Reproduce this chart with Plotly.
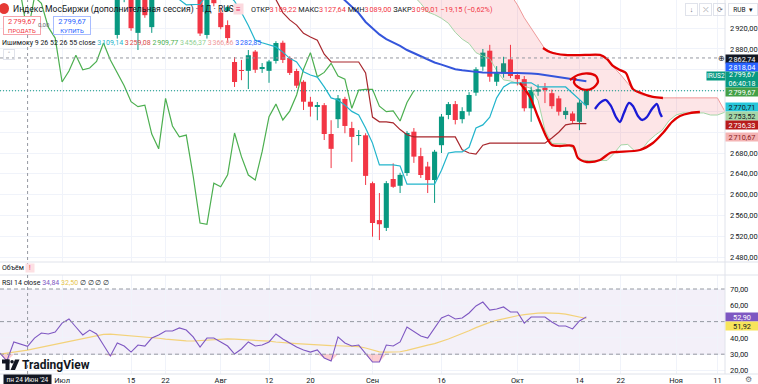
import plotly.graph_objects as go
import pandas as pd

# ---------------- DATA ----------------
FIRST_DAY = "2024-06-18"          # first visible daily bar
N_TOTAL = 111                     # bars incl. future (cloud projection)
FIRST_POS = -9                    # position index of first bar (Jul 1 = 0)

OPEN = [3160, 3135, 3095, 3120, 3109.22, 3090, 3100, 3120, 3130, 3120,
        3150, 3125, 3085, 3050, 3060, 3040, 3000, 2907, 2985, 2995,
        2911, 2985, 2922, 2980, 2990, 2995, 2985, 2990, 2980, 2985,
        2907, 2990, 2950, 2926, 2855, 2838, 2838, 2875, 2842, 2838,
        2857, 2892, 2862.7, 2837.7, 2817, 2778.6, 2770, 2772, 2716.5, 2745,
        2784, 2728, 2713, 2714, 2622, 2551, 2536, 2630, 2617, 2641.5,
        2721, 2674, 2654, 2628, 2695, 2753, 2774, 2745, 2759.4, 2796,
        2846, 2876.7, 2817, 2833, 2860, 2830, 2822, 2766, 2798, 2805.6,
        2795, 2785, 2753, 2756, 2740, 2772]
HIGH = [3180, 3150, 3130, 3135, 3127.64, 3110, 3130, 3140, 3145, 3160,
        3165, 3135, 3100, 3070, 3080, 3050, 3010, 2995, 3010, 3005,
        2995, 2990, 2992, 3000, 3010, 3005, 3000, 3000, 2995, 2990,
        2990, 2995, 2960, 2935, 2864.6, 2859, 2878, 2878, 2853, 2859,
        2895, 2896, 2866, 2842, 2820, 2788, 2778, 2776, 2743, 2791.5,
        2788, 2740, 2724, 2718, 2625, 2603, 2626, 2660, 2642, 2722,
        2728, 2690, 2663, 2686, 2755, 2778, 2780, 2768, 2797, 2845,
        2880, 2888, 2847, 2865, 2888, 2836, 2828, 2807.5, 2812, 2814.6,
        2802, 2790, 2768, 2760, 2782, 2803]
LOW = [3120, 3080, 3085, 3100, 3089.00, 3060, 3095, 3105, 3110, 3115,
       3120, 3080, 3040, 3020, 3030, 2990, 2980, 2900, 2970, 2915,
       2878, 2940, 2911, 2975, 2978, 2978, 2977, 2976, 2976, 2905,
       2900, 2962, 2918, 2892, 2807, 2820, 2803, 2834, 2834, 2815,
       2852, 2853, 2830, 2805, 2762.7, 2750, 2743, 2705, 2651, 2728,
       2718, 2663, 2695, 2618.5, 2519, 2512.6, 2530, 2613, 2603, 2636,
       2661, 2632, 2603, 2584, 2680, 2745, 2735, 2737, 2752, 2790,
       2838, 2817, 2809, 2825, 2824, 2810, 2760, 2740, 2790, 2776,
       2765, 2752, 2745, 2738, 2724, 2765]
CLOSE = [3135, 3095, 3120, 3110, 3090.01, 3100, 3120, 3130, 3120, 3150,
         3125, 3085, 3050, 3060, 3040, 3000, 2990, 2985, 3000, 2920,
         2985, 2945, 2980, 2990, 2995, 2985, 2990, 2980, 2985, 2909.77,
         2980, 2968, 2922, 2901, 2816.5, 2837.7, 2868, 2840, 2843.5, 2856,
         2891.5, 2859, 2834, 2809.4, 2778.6, 2769, 2772, 2716.5, 2688, 2785,
         2732, 2711, 2714.5, 2636, 2545.4, 2543, 2622, 2615, 2638, 2718.5,
         2673, 2637.7, 2628, 2682.5, 2750, 2774, 2743.5, 2760.6, 2791.5, 2841,
         2873, 2826.7, 2835, 2852.5, 2828, 2822, 2766, 2801, 2802.5, 2802.5,
         2770, 2759.4, 2761, 2741.5, 2777, 2799.67]

TENKAN = [3140, 3130, 3120, 3115, 3109.14, 3105, 3100, 3100, 3095, 3100,
          3105, 3100, 3090, 3080, 3070, 3060, 3050, 3040, 3030, 3020,
          3010, 3000, 2995, 2990, 2985, 2982, 2975, 2965, 2965, 2966,
          2985, 2990, 2990, 2985, 2972, 2950, 2925, 2897, 2892, 2888,
          2884, 2874, 2862, 2855, 2836, 2830, 2826, 2807, 2786, 2782,
          2772, 2760, 2753, 2728, 2699, 2657, 2657, 2657, 2655, 2620,
          2620, 2620, 2620, 2620, 2647, 2680, 2682, 2682, 2691, 2728,
          2734, 2749, 2786, 2807, 2815, 2815, 2815, 2815, 2807, 2807,
          2807, 2807, 2807, 2795, 2782, 2770.71]
KIJUN = [3262, 3260, 3259.08, 3259.08, 3259.08, 3255, 3250, 3245, 3240, 3235,
         3230, 3225, 3220, 3210, 3200, 3190, 3180, 3170, 3160, 3150,
         3140, 3130, 3120, 3110, 3100, 3090, 3080, 3070, 3060, 3050,
         3040, 3035, 3030, 3025, 3020, 3015, 3010, 3005, 3000, 2990,
         2975, 2950, 2936, 2926, 2910, 2903, 2897, 2870, 2855, 2855,
         2855, 2855, 2855, 2834, 2749, 2740, 2740, 2738, 2725, 2715,
         2711, 2711, 2711, 2711, 2711, 2711, 2711, 2686, 2680, 2678,
         2695, 2699, 2699, 2699, 2699, 2699, 2699, 2699, 2699, 2699,
         2709, 2720, 2734, 2736.33, 2736.33, 2736.33]
MA55 = [3300, 3296, 3292, 3288, 3282.85, 3279, 3275, 3271, 3266, 3261,
        3256, 3251, 3245, 3239, 3233, 3227, 3221, 3215, 3209, 3203,
        3197, 3190, 3183, 3176, 3169, 3162, 3155, 3148, 3141, 3134,
        3127, 3120, 3113, 3106, 3099, 3092, 3085, 3078, 3071, 3064,
        3057, 3050, 3043, 3036, 3029, 3022, 3015, 3007, 2998, 2986,
        2974, 2962, 2949, 2932, 2920, 2908, 2899, 2893, 2886, 2878,
        2872, 2866, 2860, 2854, 2850, 2845, 2841, 2839, 2837, 2836,
        2835, 2834.5, 2834, 2834, 2834, 2834, 2834, 2833, 2832, 2830,
        2828, 2826, 2824, 2822, 2820, 2818.04]

# Leading span B (52-period midpoint), as read, from its first plotted bar
SPAN_FIRST_DAY = "2024-08-20"
SPAN_B = [3100, 3100, 3100, 3100, 3100, 3100, 3100, 3100, 3100, 3100,
          3100, 3100, 3100, 3100, 3080, 3080, 3080, 3080, 3080, 3080,
          3080, 3080, 3080, 3080, 3080, 3060, 3040, 3020, 3000, 2985,
          2965, 2940, 2920, 2902, 2880, 2874, 2870, 2868, 2868, 2868,
          2868, 2868, 2868, 2859, 2845, 2830, 2814, 2800, 2792, 2789,
          2787, 2786, 2786, 2786, 2786, 2786, 2786, 2786, 2786, 2786,
          2762, 2740, 2730, 2720, 2715, 2710.67]
DISPLACEMENT = 25          # Ichimoku 26 (plotted 25 bars ahead / behind)

RSI = [30.7, 25.8, 37.5, 36.3, 34.84, 39.9, 43.0, 42.4, 43.6, 49.1,
       51.6, 46.7, 41.8, 44.8, 42.4, 35.6, 28.9, 36.9, 35.0, 31.3,
       35.6, 35.0, 39.9, 41.8, 44.2, 44.2, 46.1, 44.8, 40.6, 34.4,
       39.9, 39.9, 37.5, 35.0, 30.1, 33.2, 37.5, 35.0, 35.6, 37.5,
       42.4, 39.3, 36.9, 34.4, 32.6, 31.3, 32.6, 27.7, 25.8, 40.6,
       36.9, 35.0, 35.6, 30.7, 25.2, 25.2, 35.6, 35.0, 37.5, 46.7,
       44.2, 41.2, 39.9, 46.1, 52.2, 54.0, 51.6, 52.2, 55.3, 59.6,
       62.0, 57.1, 57.7, 59.0, 55.9, 55.9, 49.1, 52.8, 52.8, 52.8,
       49.8, 47.3, 47.3, 45.5, 50.4, 52.90]
RSI_MA = [30.1, 30.6, 31.2, 31.8, 32.50, 33.4, 34.3, 35.2, 36.1, 37.0,
          37.6, 38.4, 39.5, 40.6, 41.5, 42.2, 42.3, 42.0, 41.4, 41.0,
          40.8, 40.6, 40.3, 39.8, 39.2, 38.8, 38.5, 38.2, 38.1, 38.3,
          38.6, 39.0, 39.3, 39.4, 39.2, 39.0, 38.8, 38.7, 38.4, 38.0,
          37.5, 37.0, 36.8, 36.5, 36.2, 35.9, 35.7, 35.5, 35.3, 35.2,
          35.1, 35.0, 34.6, 33.8, 32.6, 31.4, 31.3, 31.3, 31.5, 32.3,
          33.5, 34.6, 35.6, 36.5, 37.8, 39.3, 41.0, 42.6, 44.4, 46.3,
          48.0, 49.5, 50.8, 51.8, 52.7, 53.6, 54.3, 54.9, 55.2, 55.3,
          55.3, 55.0, 54.6, 53.8, 52.8, 51.92]

TICK_DATES = ["2024-07-01", "2024-07-15", "2024-07-22", "2024-08-01", "2024-08-12",
              "2024-08-20", "2024-09-02", "2024-09-16", "2024-10-01", "2024-10-14",
              "2024-10-22", "2024-11-01", "2024-11-11"]
TICK_LABELS = ["Июл", "15", "22", "Авг", "12", "20", "Сен", "16", "Окт", "14",
               "22", "Ноя", "11"]
CROSS_DAY = "2024-06-24"
CROSS_PRICE = 2862.74
LEGEND_SPAN_A, LEGEND_SPAN_B = 3456.37, 3366.66

# user drawings (bar position, price)
DRAW_RED_TOP_X = [69.71, 70.72, 72.90, 75.80, 77.97, 78.99, 79.86, 80.87, 81.74, 82.17, 82.75, 83.91, 85.65, 87.10]
DRAW_RED_TOP_Y = [2881.9, 2874.2, 2868.5, 2868.5, 2868.5, 2860.8, 2847.3, 2839.6, 2833.8, 2820.4, 2803.1, 2795.4, 2787.7, 2785.8]
DRAW_RED_BOT_X = [66.38, 67.83, 68.99, 70.29, 71.01, 72.17, 74.06, 74.78, 76.09, 77.97, 79.42, 80.43, 83.77, 85.65, 87.10, 88.41, 89.57, 91.01, 92.46]
DRAW_RED_BOT_Y = [2814.6, 2787.7, 2749.2, 2708.8, 2695.4, 2693.5, 2693.5, 2670.4, 2662.7, 2666.5, 2680.0, 2681.9, 2685.8, 2699.2, 2718.5, 2739.6, 2751.2, 2756.9, 2758.8]
DRAW_LOOP_X = [73.62, 74.78, 76.23, 77.39, 77.68, 76.96, 75.80, 74.78, 74.20, 74.49]
DRAW_LOOP_Y = [2820.4, 2830.0, 2832.9, 2828.1, 2816.5, 2805.0, 2801.2, 2806.9, 2816.5, 2824.2]
DRAW_WAVE_X = [77.25, 77.97, 78.84, 79.57, 80.29, 80.87, 81.45, 82.17, 82.75, 83.48, 84.06, 84.78, 85.51, 86.23, 86.67, 86.96]
DRAW_WAVE_Y = [2764.6, 2776.2, 2781.9, 2770.4, 2749.2, 2739.6, 2756.9, 2776.2, 2770.4, 2751.2, 2743.5, 2749.2, 2764.6, 2774.2, 2756.9, 2749.2]

# ---------------- STYLE ----------------
W, H = 758, 384
FONT = "Roboto, 'Noto Sans', sans-serif"
TXT = "#131722"
GRAYT = "#6a6d78"
GRID = "#f0f3fa"
UP, DN = "#089981", "#F23645"
C_TENKAN, C_KIJUN, C_LAG = "#22b5cc", "#a8272d", "#4caf50"
C_SPANA, C_SPANB, C_MA = "#a5d6a7", "#ef9a9a", "#3455db"
C_RSI, C_RSIMA = "#7e57c2", "#f3d27a"
PLOT_R = 725 / W


def px(x):
    return x / W


def py(y):
    return 1 - y / H


def fmt(v):
    s = f"{v:,.2f}"
    return s.replace(",", "\u202f").replace(".", ",")


dates = pd.bdate_range(FIRST_DAY, periods=N_TOTAL)
pos_of = {d: FIRST_POS + k for k, d in enumerate(dates)}
pos_all = [FIRST_POS + k for k in range(N_TOTAL)]
bar_x = pos_all[:len(CLOSE)]
span_start = pos_of[pd.Timestamp(SPAN_FIRST_DAY)]
span_x = [span_start + k for k in range(len(SPAN_B))]
# Leading span A = (Tenkan + Kijun) / 2, shifted forward
span_a = [(TENKAN[p - DISPLACEMENT - FIRST_POS] + KIJUN[p - DISPLACEMENT - FIRST_POS]) / 2 for p in span_x]
lag_x = [p - DISPLACEMENT for p in bar_x]
tick_pos = [pos_of[pd.Timestamp(d)] for d in TICK_DATES]
cross_x = pos_of[pd.Timestamp(CROSS_DAY)]

fig = go.Figure()

# Cloud
fig.add_trace(go.Scatter(x=span_x, y=SPAN_B, mode="lines", line=dict(color=C_SPANB, width=1),
                         hoverinfo="skip", showlegend=False))
fig.add_trace(go.Scatter(x=span_x, y=span_a, mode="lines", line=dict(color=C_SPANA, width=1),
                         fill="tonexty", fillcolor="rgba(242,54,69,0.13)",
                         hoverinfo="skip", showlegend=False))

# Candles: wicks + bodies
for col, is_up in ((UP, True), (DN, False)):
    wx, wy = [], []
    for p, o, h, l, c in zip(bar_x, OPEN, HIGH, LOW, CLOSE):
        if (c >= o) == is_up:
            wx += [p, p, None]
            wy += [l, h, None]
    fig.add_trace(go.Scatter(x=wx, y=wy, mode="lines", line=dict(color=col, width=1),
                             hoverinfo="skip", showlegend=False))
body_base = [min(o, c) for o, c in zip(OPEN, CLOSE)]
body_h = [max(abs(c - o), 1.3) for o, c in zip(OPEN, CLOSE)]
body_col = [UP if c >= o else DN for o, c in zip(OPEN, CLOSE)]
fig.add_trace(go.Bar(x=bar_x, y=body_h, base=body_base, width=0.74,
                     marker=dict(color=body_col, line=dict(width=0)),
                     hoverinfo="skip", showlegend=False))

# Ichimoku lines
fig.add_trace(go.Scatter(x=lag_x, y=CLOSE, mode="lines", line=dict(color=C_LAG, width=1.2),
                         hoverinfo="skip", showlegend=False))
fig.add_trace(go.Scatter(x=bar_x, y=KIJUN, mode="lines", line=dict(color=C_KIJUN, width=1.2),
                         hoverinfo="skip", showlegend=False))
fig.add_trace(go.Scatter(x=bar_x, y=TENKAN, mode="lines", line=dict(color=C_TENKAN, width=1.2),
                         hoverinfo="skip", showlegend=False))
fig.add_trace(go.Scatter(x=bar_x, y=MA55, mode="lines", line=dict(color=C_MA, width=2),
                         hoverinfo="skip", showlegend=False))

# Drawings
for xs, ys, col in [(DRAW_RED_TOP_X, DRAW_RED_TOP_Y, "#e00000"),
                    (DRAW_RED_BOT_X, DRAW_RED_BOT_Y, "#e00000"),
                    (DRAW_LOOP_X, DRAW_LOOP_Y, "#e00000"),
                    (DRAW_WAVE_X, DRAW_WAVE_Y, "#1a1ad6")]:
    fig.add_trace(go.Scatter(x=xs, y=ys, mode="lines",
                             line=dict(color=col, width=2.3, shape="spline", smoothing=0.8),
                             hoverinfo="skip", showlegend=False))

# RSI
below = [min(v, 30) for v in RSI]
fig.add_trace(go.Scatter(x=bar_x, y=[30] * len(RSI), mode="lines", line=dict(width=0),
                         xaxis="x2", yaxis="y2", hoverinfo="skip", showlegend=False))
fig.add_trace(go.Scatter(x=bar_x, y=below, mode="lines", line=dict(width=0),
                         fill="tonexty", fillcolor="rgba(242,54,69,0.25)",
                         xaxis="x2", yaxis="y2", hoverinfo="skip", showlegend=False))
fig.add_trace(go.Scatter(x=bar_x, y=RSI_MA, mode="lines", line=dict(color=C_RSIMA, width=1.2),
                         xaxis="x2", yaxis="y2", hoverinfo="skip", showlegend=False))
fig.add_trace(go.Scatter(x=bar_x, y=RSI, mode="lines", line=dict(color=C_RSI, width=1.1),
                         xaxis="x2", yaxis="y2", hoverinfo="skip", showlegend=False))

price_ticks = list(range(2480, 2921, 40))
hidden = {2840, 2800, 2760, 2720}
rsi_ticks = [20, 30, 40, 50, 60, 70]

xr = [FIRST_POS, FIRST_POS + 105.1]
fig.update_layout(
    width=W, height=H, margin=dict(l=0, r=0, t=0, b=0),
    paper_bgcolor="white", plot_bgcolor="white",
    font=dict(family=FONT, color=TXT, size=8),
    xaxis=dict(domain=[0, PLOT_R], range=xr, tickvals=tick_pos, showticklabels=False,
               showgrid=True, gridcolor=GRID, zeroline=False, showline=False, fixedrange=True),
    yaxis=dict(domain=[py(262), 1], range=[2470.4, 2974.2], side="right",
               tickvals=price_ticks,
               ticktext=["" if v in hidden else fmt(v) for v in price_ticks],
               tickfont=dict(size=7.5, color=TXT), showgrid=True, gridcolor=GRID,
               zeroline=False, ticks="", ticklabelstandoff=4),
    xaxis2=dict(domain=[0, PLOT_R], range=xr, anchor="y2", tickvals=tick_pos,
                ticktext=TICK_LABELS, tickfont=dict(size=7.5, color=TXT),
                showgrid=True, gridcolor=GRID, zeroline=False, showline=False, ticks=""),
    yaxis2=dict(domain=[py(374), py(275)], range=[17.85, 78.6], anchor="x2", side="right",
                tickvals=rsi_ticks,
                ticktext=["" if v == 50 else fmt(v) for v in rsi_ticks],
                tickfont=dict(size=7.5, color=TXT), showgrid=True, gridcolor=GRID,
                zeroline=False, ticks="", ticklabelstandoff=4),
)

shapes = []
# RSI band
shapes.append(dict(type="rect", xref="paper", yref="y2", x0=0, x1=PLOT_R, y0=30, y1=70,
                   fillcolor="rgba(126,87,194,0.09)", line=dict(width=0), layer="below"))
for lv in (70, 50, 30):
    shapes.append(dict(type="line", xref="paper", yref="y2", x0=0, x1=PLOT_R, y0=lv, y1=lv,
                       line=dict(color="#9598a1", width=1, dash="4px,3px")))
# separators
for yy in (262, 275, 374):
    shapes.append(dict(type="line", xref="paper", yref="paper", x0=0, x1=1, y0=py(yy), y1=py(yy),
                       line=dict(color="#e0e3eb", width=1)))
shapes.append(dict(type="line", xref="paper", yref="paper", x0=PLOT_R, x1=PLOT_R, y0=py(374), y1=1,
                   line=dict(color="#e0e3eb", width=1)))
# last price line & crosshair
shapes.append(dict(type="line", xref="paper", yref="y", x0=0, x1=PLOT_R, y0=CLOSE[-1], y1=CLOSE[-1],
                   line=dict(color=UP, width=1, dash="1px,2px")))
shapes.append(dict(type="line", xref="paper", yref="y", x0=0, x1=PLOT_R, y0=CROSS_PRICE, y1=CROSS_PRICE,
                   line=dict(color="#9598a1", width=1, dash="3px,3px")))
shapes.append(dict(type="line", xref="x", yref="paper", x0=cross_x, x1=cross_x, y0=py(374), y1=1,
                   line=dict(color="#9598a1", width=1, dash="3px,3px")))
# MOEX logo + status dot
shapes.append(dict(type="circle", xref="paper", yref="paper", x0=px(-1), x1=px(9), y0=py(14), y1=py(3),
                   fillcolor="#e53935", line=dict(width=0)))
shapes.append(dict(type="circle", xref="paper", yref="paper", x0=px(225), x1=px(230), y0=py(11.5), y1=py(6.5),
                   fillcolor=UP, line=dict(width=0)))
# TradingView logo glyph
shapes.append(dict(type="rect", xref="paper", yref="paper", x0=px(2), x1=px(9.5), y0=py(363.5), y1=py(359.5),
                   fillcolor=TXT, line=dict(width=0)))
shapes.append(dict(type="rect", xref="paper", yref="paper", x0=px(5.5), x1=px(9.5), y0=py(370), y1=py(359.5),
                   fillcolor=TXT, line=dict(width=0)))
shapes.append(dict(type="circle", xref="paper", yref="paper", x0=px(10.3), x1=px(13.8), y0=py(363.5), y1=py(360),
                   fillcolor=TXT, line=dict(width=0)))
shapes.append(dict(type="path", xref="paper", yref="paper",
                   path=f"M {px(15)} {py(359.5)} L {px(19.5)} {py(359.5)} L {px(15)} {py(370)} L {px(10.5)} {py(370)} Z",
                   fillcolor=TXT, line=dict(width=0)))
fig.update_layout(shapes=shapes)


def ann(x, y, text, size=7.5, color=TXT, xanchor="left", **kw):
    fig.add_annotation(xref="paper", yref="paper", x=px(x), y=py(y), text=text, showarrow=False,
                       font=dict(family=FONT, size=size, color=color), xanchor=xanchor,
                       yanchor="middle", **kw)


def plabel(yc, text, bg, fg="white", x=725, w=32, h=8, size=7.3):
    ann(x, yc, text, size=size, color=fg, bgcolor=bg, width=w, height=h, borderpad=0, align="center")


def sp(t, c):
    return f"<span style='color:{c}'>{t}</span>"


# header
ann(11, 9, "Индекс МосБиржи (дополнительная сессия) · 1Д · RUS", size=8.6)
ann(233, 9, "≡", size=8, color="#e91e63", bgcolor="#fcd9de", width=9, height=10, borderpad=0)
ann(249, 9, sp("ОТКР", TXT) + sp(fmt(OPEN[4]), DN) + " " + sp("МАКС", TXT) + sp(fmt(HIGH[4]), DN) + " "
    + sp("МИН", TXT) + sp(fmt(LOW[4]), DN) + " " + sp("ЗАКР", TXT) + sp(fmt(CLOSE[4]), DN) + " "
    + sp("−19,15 (−0,62%)", DN), size=7.3)
ann(3, 25.5, f"{fmt(CLOSE[-1])}<br><span style='font-size:6px'>ПРОДАТЬ</span>", size=7.5, color=DN,
    bordercolor="#f5a3ab", borderwidth=1, borderpad=1, bgcolor="white", width=34, height=15)
ann(44, 25, "0,00", size=6, color=GRAYT, xanchor="center")
ann(53, 25.5, f"{fmt(CLOSE[-1])}<br><span style='font-size:6px'>КУПИТЬ</span>", size=7.5, color="#2962ff",
    bordercolor="#a8bcff", borderwidth=1, borderpad=1, bgcolor="white", width=34, height=15)
ann(0, 43, "Ишимоку 9 26 52 26 55 close " + sp(fmt(TENKAN[4]), C_TENKAN) + " " + sp(fmt(KIJUN[4]), "#d84a4a")
    + " " + sp(fmt(CLOSE[4 + DISPLACEMENT]), C_LAG) + " " + sp(fmt(LEGEND_SPAN_A), "#8fcf92") + " "
    + sp(fmt(LEGEND_SPAN_B), "#ef9a9a") + " " + sp(fmt(MA55[4]), "#2962ff"), size=7)
ann(2.5, 55, "˄", size=7, color=GRAYT, bordercolor="#e0e3eb", borderwidth=1, width=10, height=9, borderpad=0)

# top-right buttons
for xb, t in [(685, "↓"), (699, "⤫"), (713, "⟳")]:
    ann(xb, 10, t, size=7, color=GRAYT, bordercolor="#e0e3eb", borderwidth=1, width=11, height=11, borderpad=0)
ann(728, 10, "RUB  ▾", size=6.5, color=TXT, bordercolor="#e0e3eb", borderwidth=1, width=28, height=11, borderpad=0)

# price scale labels
ann(716, 58.5, "⊕", size=8, color=TXT)
plabel(58.5, fmt(CROSS_PRICE), TXT)
plabel(67.3, fmt(MA55[-1]), "#2962ff")
ann(706, 75.5, "IRUS2", size=6.5, color="white", bgcolor=UP, width=18, height=8, borderpad=0)
ann(725, 79.5, f"{fmt(CLOSE[-1])}<br>06:40:18", size=7, color="white", bgcolor=UP, width=32, height=15,
    borderpad=0, align="center")
plabel(91.8, fmt(CLOSE[-1]), "#43a047")
plabel(106.5, fmt(TENKAN[-1]), "#26c6da", fg=TXT)
plabel(116, fmt(span_a[-1]), "#a5d6a7", fg=TXT)
plabel(124.8, fmt(KIJUN[-1]), "#b71c1c")
plabel(137, fmt(SPAN_B[-1]), "#f4b4b4", fg="#8a1c1c")
plabel(317, fmt(RSI[-1]), C_RSI)
plabel(325.6, fmt(RSI_MA[-1]), "#f7e45a", fg=TXT)

# pane legends
ann(0, 268, "Объём", size=7, color=TXT)
ann(25, 268, "!", size=6.5, color=DN, bgcolor="#fde0e3", width=8, height=8, borderpad=0)
ann(0, 283, "RSI 14 close " + sp(fmt(RSI[4]), C_RSI) + " " + sp(fmt(RSI_MA[4]), "#e6c34a")
    + " " + sp("∅ ∅ ∅ ∅", TXT), size=7)

# bottom
ann(20, 365, "<b>TradingView</b>", size=12, color=TXT)
ann(3, 379.5, "пн 24 Июн '24", size=6.5, color="white", bgcolor=TXT, width=47, height=9, borderpad=0)
ann(748, 379.5, "⚙", size=8, color=GRAYT, xanchor="center")

fig.write_html("out.html", config={"displayModeBar": False},
               post_script="document.body.style.margin='0';document.body.style.overflow='hidden';")
